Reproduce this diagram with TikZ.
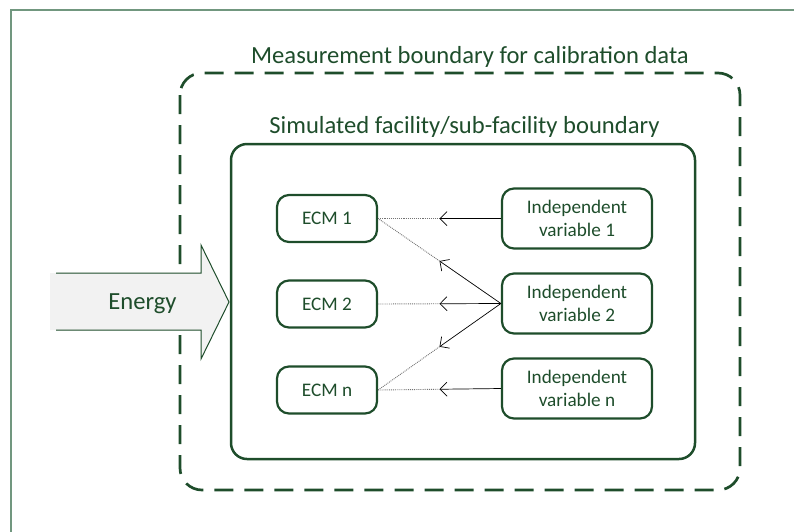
\documentclass[tikz,border=0pt]{standalone}
\usepackage{fontspec}
\setmainfont{Carlito}
\usetikzlibrary{arrows.meta}
\definecolor{dkgreen}{HTML}{1E4D2B}
\definecolor{framegreen}{HTML}{71977F}
\definecolor{arrowfill}{HTML}{F2F2F2}
\begin{document}
\begin{tikzpicture}[x=1pt,y=-1pt,
  ecmbox/.style={draw=dkgreen, line width=2.2pt, rounded corners=12pt,
    minimum width=100pt, minimum height=47pt, inner sep=0pt,
    font=\fontsize{19.2}{23.5}\selectfont, text=dkgreen},
  varbox/.style={ecmbox, minimum width=150pt, minimum height=60pt, align=center},
  caption/.style={font=\fontsize{24.6}{29}\selectfont, text=dkgreen, anchor=base},
  feed/.style={black, line width=0.7pt},
  tail/.style={black!55, line width=0.9pt, densely dotted},
  tip/.style={-{Straight Barb[length=7pt,width=14pt]}}
]
\useasboundingbox (0,0) rectangle (794,531);

% page frame
\draw[framegreen, line width=2pt] (10.5,540) -- (10.5,9.5) -- (800,9.5);

% measurement boundary
\draw[dkgreen, line width=2.7pt, dash pattern=on 19pt off 11pt, rounded corners=22pt]
  (180,73) rectangle (740,490);
\node[caption] (mlabel) at (470,63) {Measurement boundary for calibration data};

% simulated facility boundary
\draw[dkgreen, line width=2.5pt, rounded corners=16pt] (231,144) rectangle (695,459);
\node[caption] (slabel) at (464.5,133) {Simulated facility/sub-facility boundary};

% energy input arrow
\fill[arrowfill] (50,273) -- (201,273) -- (201,245) -- (229,302) -- (201,359)
  -- (201,330) -- (50,330) -- cycle;
\draw[dkgreen, line width=1pt] (56,273) -- (201,273) -- (201,245) -- (229,302)
  -- (201,359) -- (201,330) -- (56,330);
\node[caption] (energy) at (142.5,309) {Energy};

% ECM boxes
\node[ecmbox] (e1) at (327,218.5) {ECM 1};
\node[ecmbox] (e2) at (327,304) {ECM 2};
\node[ecmbox] (en) at (327,390) {ECM n};

% independent variables
\node[varbox] (v1) at (577,218.5) {Independent\\variable 1};
\node[varbox] (v2) at (577,303.5) {Independent\\variable 2};
\node[varbox] (vn) at (577,388.5) {Independent\\variable n};

% links: solid half with arrow, dotted half to the ECM
\foreach \v/\e/\m in {v1/e1/m1, v2/e1/m2, v2/e2/m3, v2/en/m4, vn/en/m5}{
  \path (\v.west) -- (\e.east) coordinate[pos=0.5] (\m);
  \draw[tail] (\m) -- (\e.east);
  \draw[feed, tip] (\v.west) -- (\m);
}
\end{tikzpicture}
\end{document}
